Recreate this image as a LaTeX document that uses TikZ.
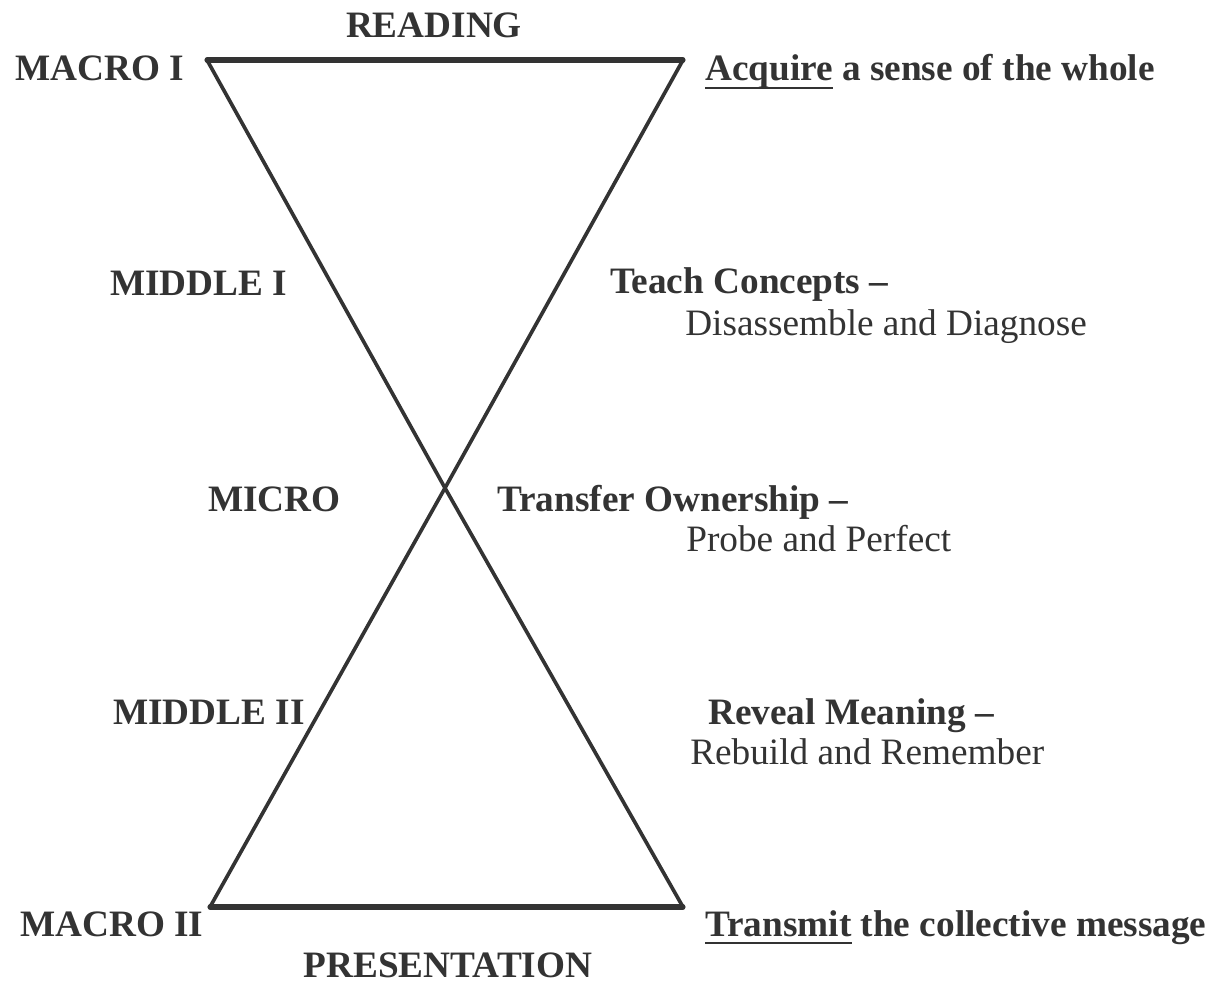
\documentclass[tikz,border=0pt]{standalone}
\usepackage{fontspec}
\setmainfont{Liberation Serif}
\usepackage{xcolor}
\usetikzlibrary{positioning}
\definecolor{ink}{HTML}{333333}
% thick underline for the key verbs
\newcommand{\ulword}[1]{\setbox0\hbox{#1}\rlap{\vrule height -4pt depth 5.6pt width \wd0}\box0\relax}

\begin{document}
\begin{tikzpicture}[
    x=0.025cm, y=-0.025cm,
    stage/.style={anchor=base west, inner sep=0pt, font=\fontsize{26.5}{30}\selectfont\bfseries, text=ink},
    aim/.style={anchor=base west, inner sep=0pt, font=\fontsize{26.5}{30}\selectfont\bfseries, text=ink},
    how/.style={anchor=base west, inner sep=0pt, font=\fontsize{26.5}{30}\selectfont, text=ink},
    glass/.style={draw=ink, line width=2.6pt, line join=round, line cap=round},
    rim/.style={draw=ink, line width=3.6pt, line cap=round},
]
    \useasboundingbox (0,0) rectangle (1224,984);

    % corners of the hourglass
    \coordinate (tl) at (207,60);
    \coordinate (tr) at (683,60);
    \coordinate (neck) at (445,488);
    \coordinate (bl) at (210,907);
    \coordinate (br) at (683,907);

    \draw[glass] (tl) -- (neck) -- (tr);
    \draw[glass] (bl) -- (neck) -- (br);
    \draw[rim] (tl) -- (tr);
    \draw[rim] (bl) -- (br);

    % left column
    \node[stage, anchor=base] (read) at (434,38) {READING};
    \node[stage] (mac1) at (15,81) {MACRO I};
    \node[stage] (mid1) at (110,296) {MIDDLE I};
    \node[stage] (mic) at (208,511) {MICRO};
    \node[stage] (mid2) at (113,724) {MIDDLE II};
    \node[stage] (mac2) at (20,936) {MACRO II};
    \node[stage, anchor=base] (pres) at (448,977) {PRESENTATION};

    % right column
    \node[aim] (acq) at (705,81) {\ulword{Acquire} a sense of the whole};
    \node[aim] (teach) at (610,294) {Teach Concepts --};
    \node[how] (dis) at (685,335) {Disassemble and Diagnose};
    \node[aim] (trans) at (497,511) {Transfer Ownership --};
    \node[how] (probe) at (686,551) {Probe and Perfect};
    \node[aim] (rev) at (708,724) {Reveal Meaning --};
    \node[how] (reb) at (690,764) {Rebuild and Remember};
    \node[aim] (tx) at (705,936) {\ulword{Transmit} the collective message};
\end{tikzpicture}
\end{document}
